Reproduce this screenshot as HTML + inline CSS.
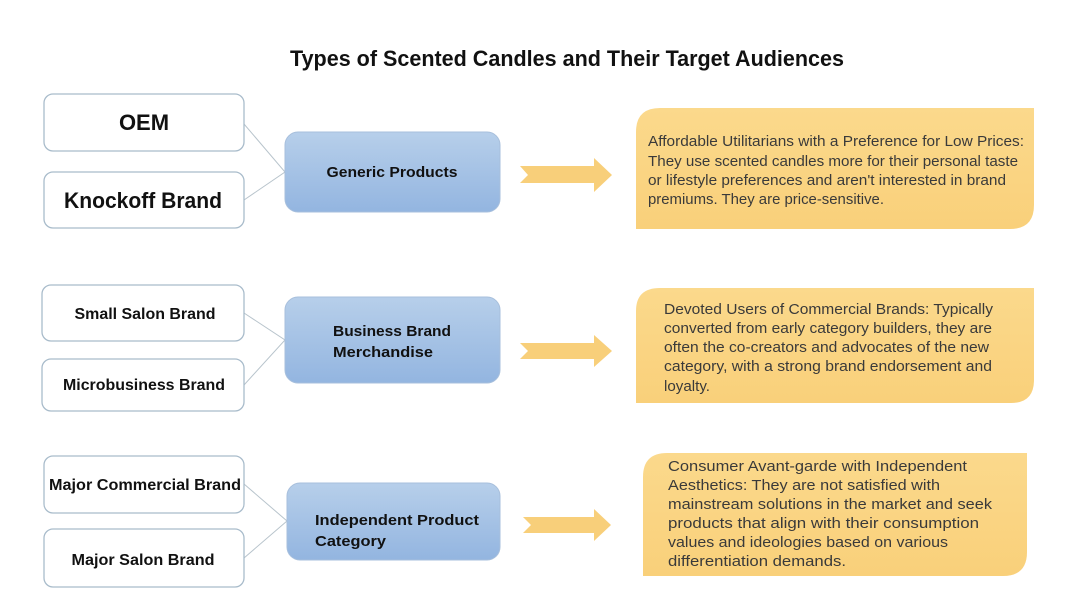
<!DOCTYPE html>
<html><head><meta charset="utf-8"><style>
html,body{margin:0;padding:0;background:#fff;}
svg{display:block;}
text{font-family:"Liberation Sans",sans-serif;}
.b{font-weight:bold;fill:#111;}
.y{font-size:14.5px;fill:#3a3a3a;}
</style></head><body>
<svg width="1080" height="608" viewBox="0 0 1080 608" xmlns="http://www.w3.org/2000/svg">
<defs>
<linearGradient id="bl" x1="0" y1="0" x2="0" y2="1"><stop offset="0" stop-color="#b7cfea"/><stop offset="1" stop-color="#93b5e0"/></linearGradient>
<linearGradient id="yl" x1="0" y1="0" x2="0" y2="1"><stop offset="0" stop-color="#fbd98c"/><stop offset="1" stop-color="#f9d07a"/></linearGradient>
</defs>
<text x="567" y="66" class="b" font-size="22" text-anchor="middle" textLength="554" lengthAdjust="spacingAndGlyphs">Types of Scented Candles and Their Target Audiences</text>

<!-- connectors -->
<g stroke="#b8c4cc" stroke-width="1" fill="none">
<path d="M244 124 L285 172 L244 200"/>
<path d="M244 313 L285 340 L244 385"/>
<path d="M244 484 L287 521 L244 558"/>
</g>

<!-- left boxes -->
<g fill="#fff" stroke="#a9bccb" stroke-width="1.3">
<rect x="44" y="94" width="200" height="57" rx="9"/>
<rect x="44" y="172" width="200" height="56" rx="9"/>
<rect x="42" y="285" width="202" height="56" rx="9"/>
<rect x="42" y="359" width="202" height="52" rx="9"/>
<rect x="44" y="456" width="200" height="57" rx="9"/>
<rect x="44" y="529" width="200" height="58" rx="9"/>
</g>
<text x="144" y="130" class="b" font-size="22" text-anchor="middle">OEM</text>
<text x="143" y="208" class="b" font-size="22" text-anchor="middle" textLength="158" lengthAdjust="spacingAndGlyphs">Knockoff Brand</text>
<text x="145" y="319" class="b" font-size="16" text-anchor="middle" textLength="141" lengthAdjust="spacingAndGlyphs">Small Salon Brand</text>
<text x="144" y="390" class="b" font-size="16" text-anchor="middle" textLength="162" lengthAdjust="spacingAndGlyphs">Microbusiness Brand</text>
<text x="145" y="490" class="b" font-size="16" text-anchor="middle" textLength="192" lengthAdjust="spacingAndGlyphs">Major Commercial Brand</text>
<text x="143" y="565" class="b" font-size="16" text-anchor="middle" textLength="143" lengthAdjust="spacingAndGlyphs">Major Salon Brand</text>

<!-- blue boxes -->
<g fill="url(#bl)" stroke="#a7bfdc" stroke-width="1">
<rect x="285" y="132" width="215" height="80" rx="13"/>
<rect x="285" y="297" width="215" height="86" rx="13"/>
<rect x="287" y="483" width="213" height="77" rx="13"/>
</g>
<text x="392" y="177" class="b" font-size="15" text-anchor="middle" textLength="131" lengthAdjust="spacingAndGlyphs">Generic Products</text>
<text x="333" y="336" class="b" font-size="15" textLength="118" lengthAdjust="spacingAndGlyphs">Business Brand</text>
<text x="333" y="357" class="b" font-size="15" textLength="100" lengthAdjust="spacingAndGlyphs">Merchandise</text>
<text x="315" y="525" class="b" font-size="15" textLength="164" lengthAdjust="spacingAndGlyphs">Independent Product</text>
<text x="315" y="546" class="b" font-size="15" textLength="71" lengthAdjust="spacingAndGlyphs">Category</text>

<!-- arrows -->
<g fill="#f8cf7a">
<path d="M520 166 L594 166 L594 158 L612 175 L594 192 L594 183 L520 183 L528 175 Z"/>
<path d="M520 343 L594 343 L594 335 L612 351 L594 367 L594 359 L520 359 L528 351 Z"/>
<path d="M523 517 L594 517 L594 509 L611 525 L594 541 L594 533 L523 533 L531 525 Z"/>
</g>

<!-- yellow boxes -->
<g fill="url(#yl)">
<path d="M660 108 L1034 108 L1034 205 Q1034 229 1010 229 L636 229 L636 132 Q636 108 660 108 Z"/>
<path d="M660 288 L1034 288 L1034 380 Q1034 403 1011 403 L636 403 L636 311 Q636 288 660 288 Z"/>
<path d="M667 453 L1027 453 L1027 552 Q1027 576 1003 576 L643 576 L643 477 Q643 453 667 453 Z"/>
</g>
<g class="y">
<text x="648" y="146" textLength="376" lengthAdjust="spacingAndGlyphs">Affordable Utilitarians with a Preference for Low Prices:</text>
<text x="648" y="166" textLength="370" lengthAdjust="spacingAndGlyphs">They use scented candles more for their personal taste</text>
<text x="648" y="185" textLength="358" lengthAdjust="spacingAndGlyphs">or lifestyle preferences and aren't interested in brand</text>
<text x="648" y="204" textLength="236" lengthAdjust="spacingAndGlyphs">premiums. They are price-sensitive.</text>
<text x="664" y="314" textLength="329" lengthAdjust="spacingAndGlyphs">Devoted Users of Commercial Brands: Typically</text>
<text x="664" y="333" textLength="328" lengthAdjust="spacingAndGlyphs">converted from early category builders, they are</text>
<text x="664" y="352" textLength="325" lengthAdjust="spacingAndGlyphs">often the co-creators and advocates of the new</text>
<text x="664" y="371" textLength="328" lengthAdjust="spacingAndGlyphs">category, with a strong brand endorsement and</text>
<text x="664" y="391" textLength="46" lengthAdjust="spacingAndGlyphs">loyalty.</text>
<text x="668" y="471" font-size="15" textLength="299" lengthAdjust="spacingAndGlyphs">Consumer Avant-garde with Independent</text>
<text x="668" y="490" font-size="15" textLength="272" lengthAdjust="spacingAndGlyphs">Aesthetics: They are not satisfied with</text>
<text x="668" y="509" font-size="15" textLength="324" lengthAdjust="spacingAndGlyphs">mainstream solutions in the market and seek</text>
<text x="668" y="528" font-size="15" textLength="311" lengthAdjust="spacingAndGlyphs">products that align with their consumption</text>
<text x="668" y="547" font-size="15" textLength="280" lengthAdjust="spacingAndGlyphs">values and ideologies based on various</text>
<text x="668" y="566" font-size="15" textLength="178" lengthAdjust="spacingAndGlyphs">differentiation demands.</text>
</g>
</svg>
</body></html>
